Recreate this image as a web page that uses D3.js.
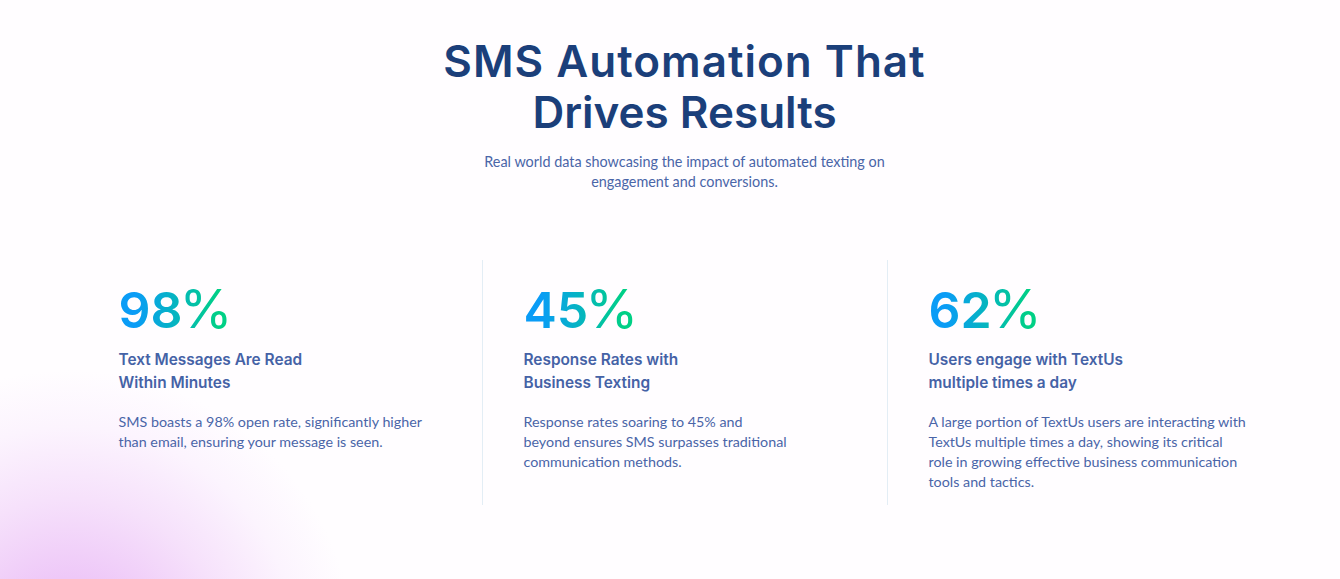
<!DOCTYPE html>
<html>
<head>
<meta charset="utf-8">
<script src="https://cdn.jsdelivr.net/npm/d3@7"></script>
<style>
html, body { margin: 0; padding: 0; background: #fffdff; overflow: hidden; }
svg { display: block; }
</style>
</head>
<body>
<div id="chart"></div>
<script>
const titleLines = ['SMS Automation That', 'Drives Results'];
const subtitleLines = ['Real world data showcasing the impact of automated texting on', 'engagement and conversions.'];
const statValues = [98, 45, 62];
const statHeadings = [
    ['Text Messages Are Read', 'Within Minutes'],
    ['Response Rates with', 'Business Texting'],
    ['Users engage with TextUs', 'multiple times a day']
];
const statBodies = [
    ['SMS boasts a 98% open rate, significantly higher', 'than email, ensuring your message is seen.'],
    ['Response rates soaring to 45% and', 'beyond ensures SMS surpasses traditional', 'communication methods.'],
    ['A large portion of TextUs users are interacting with', 'TextUs multiple times a day, showing its critical', 'role in growing effective business communication', 'tools and tactics.']
];

const width = 1340;
const height = 579;
const headFont = 'Inter, "Open Sans", sans-serif';
const bodyFont = 'Lato, "Open Sans", sans-serif';

const svg = d3.select('#chart').append('svg')
    .attr('width', width)
    .attr('height', height)
    .attr('viewBox', `0 0 ${width} ${height}`);

const defs = svg.append('defs');

// Pink glow in the bottom left corner
const glow = defs.append('radialGradient')
    .attr('id', 'glow')
    .attr('gradientUnits', 'userSpaceOnUse')
    .attr('cx', 70).attr('cy', 655).attr('r', 285);
glow.append('stop').attr('offset', '0%').attr('stop-color', '#ebbdf7');
glow.append('stop').attr('offset', '27%').attr('stop-color', '#eec8f8');
glow.append('stop').attr('offset', '55%').attr('stop-color', '#f6e1fb');
glow.append('stop').attr('offset', '80%').attr('stop-color', '#fcf4fe');
glow.append('stop').attr('offset', '100%').attr('stop-color', '#fffdff');

svg.append('rect').attr('width', width).attr('height', height).attr('fill', '#fffdff');
svg.append('rect').attr('width', width).attr('height', height).attr('fill', 'url(#glow)');

// Title block
svg.selectAll('text.title').data(titleLines).enter().append('text')
    .attr('class', 'title')
    .attr('x', 684.5)
    .attr('y', (d, i) => 77 + i * 51)
    .attr('text-anchor', 'middle')
    .attr('font-family', headFont)
    .attr('font-size', 44)
    .attr('font-weight', 600)
    .attr('letter-spacing', (d, i) => i === 0 ? 1 : 0)
    .attr('fill', '#1b3f7a')
    .text(d => d);

svg.selectAll('text.subtitle').data(subtitleLines).enter().append('text')
    .attr('class', 'subtitle')
    .attr('x', 684.5)
    .attr('y', (d, i) => 167 + i * 20)
    .attr('text-anchor', 'middle')
    .attr('font-family', bodyFont)
    .attr('font-size', 14.4)
    .attr('fill', '#4a65a8')
    .text(d => d);

// One column per stat
const column = d3.scaleBand()
    .domain(d3.range(statValues.length))
    .range([77, 1292]);

// Divider between columns
svg.selectAll('line.divider').data(d3.range(1, statValues.length)).enter().append('line')
    .attr('class', 'divider')
    .attr('x1', d => column(d) + 0.5)
    .attr('x2', d => column(d) + 0.5)
    .attr('y1', 260)
    .attr('y2', 505)
    .attr('stroke', '#e3edf5');

const cols = svg.selectAll('g.stat').data(statValues).enter().append('g')
    .attr('class', 'stat')
    .attr('transform', (d, i) => `translate(${column(i) + 41.5},0)`);

statValues.forEach((d, i) => {
    const grad = defs.append('linearGradient')
        .attr('id', `statFill${i}`)
        .attr('gradientUnits', 'userSpaceOnUse')
        .attr('x1', 0).attr('x2', 112).attr('y1', 0).attr('y2', 0);
    grad.append('stop').attr('offset', '15%').attr('stop-color', '#0a9cf6');
    grad.append('stop').attr('offset', '90%').attr('stop-color', '#00d085');
});

const statText = cols.append('text')
    .attr('y', 328)
    .attr('font-family', headFont)
    .attr('fill', (d, i) => `url(#statFill${i})`);

statText.append('tspan')
    .attr('font-size', 50)
    .attr('font-weight', 600)
    .text(d => d);

statText.append('tspan')
    .attr('dx', -3)
    .attr('font-size', 54)
    .attr('font-weight', 400)
    .text('%');

cols.each(function (d, i) {
    const g = d3.select(this);
    g.selectAll('text.heading').data(statHeadings[i]).enter().append('text')
        .attr('class', 'heading')
        .attr('y', (t, j) => 365 + j * 23)
        .attr('font-family', headFont)
        .attr('font-size', 15.4)
        .attr('font-weight', 600)
        .attr('fill', '#4562a6')
        .text(t => t);
    g.selectAll('text.body').data(statBodies[i]).enter().append('text')
        .attr('class', 'body')
        .attr('y', (t, j) => 427 + j * 20)
        .attr('font-family', bodyFont)
        .attr('font-size', 14.3)
        .attr('fill', '#4a65a8')
        .text(t => t);
});
</script>
</body>
</html>
